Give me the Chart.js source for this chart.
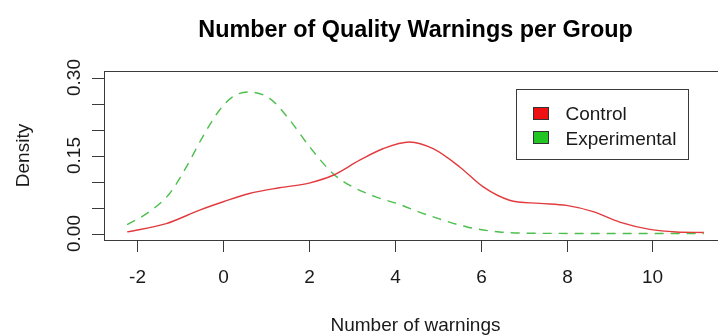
<!DOCTYPE html>
<html>
<head>
<meta charset="utf-8">
<script src="https://cdn.jsdelivr.net/npm/chart.js@4/dist/chart.umd.min.js"></script>
<style>
  html, body { margin: 0; padding: 0; background: #ffffff; overflow: hidden; }
  #wrap { width: 718px; height: 335px; overflow: hidden; }
</style>
</head>
<body>
<div id="wrap">
  <canvas id="densityChart" width="740" height="335"></canvas>
</div>
<script>
// Kernel density estimates, number of warnings per group
var controlX = [-2.24, -1.33, -0.55, 0, 0.61, 1.31, 2.0, 2.56, 3.18, 3.72, 4.34, 4.89, 5.51, 6.05, 6.67, 7.37, 8.0, 8.62, 9.24, 9.94, 10.56, 11.2];
var controlY = [0.003, 0.019, 0.045, 0.061, 0.077, 0.088, 0.097, 0.112, 0.141, 0.163, 0.176, 0.163, 0.128, 0.090, 0.064, 0.058, 0.054, 0.042, 0.022, 0.008, 0.003, 0.002];

var experimentalX = [-2.24, -1.72, -1.25, -0.86, -0.48, -0.09, 0.22, 0.59, 1.08, 1.55, 2.01, 2.56, 2.94, 3.57, 4.11, 4.54, 4.89, 5.66, 6.44, 7.2, 8.5, 10.0, 11.2];
var experimentalY = [0.017, 0.042, 0.077, 0.128, 0.186, 0.237, 0.263, 0.272, 0.260, 0.218, 0.167, 0.115, 0.093, 0.070, 0.056, 0.042, 0.032, 0.013, 0.003, 0.0005, 0.0001, 0, 0];

var xTicks = [-2, 0, 2, 4, 6, 8, 10];
var yTicks = [0, 0.05, 0.10, 0.15, 0.20, 0.25, 0.30];
var yLabels = [0, 0.15, 0.30];

var seriesNames = ['Control', 'Experimental'];
var seriesColors = ['#e23b3e', '#4cbf4c'];
var legendFills = ['#ee1111', '#22c522'];

var FONT = '"Liberation Sans", Arial, Helvetica, sans-serif';

function toPoints(xs, ys) {
  var pts = [];
  for (var i = 0; i < xs.length; i++) {
    pts.push({ x: xs[i], y: ys[i] });
  }
  return pts;
}

// Axes, box, titles and legend drawn R-style on top of the plot
var basePlot = {
  id: 'basePlot',
  afterDraw: function(chart) {
    var ctx = chart.ctx;
    var area = chart.chartArea;
    var xs = chart.scales.x;
    var ys = chart.scales.y;
    ctx.save();

    ctx.strokeStyle = '#3a3a3a';
    ctx.lineWidth = 1;
    ctx.strokeRect(area.left + 0.5, area.top + 0.5, area.right - area.left, area.bottom - area.top);

    ctx.fillStyle = '#1a1a1a';
    ctx.font = '19px ' + FONT;

    // x axis ticks and labels
    ctx.textAlign = 'center';
    ctx.textBaseline = 'alphabetic';
    for (var i = 0; i < xTicks.length; i++) {
      var px = Math.round(xs.getPixelForValue(xTicks[i])) + 0.5;
      ctx.beginPath();
      ctx.moveTo(px, area.bottom);
      ctx.lineTo(px, area.bottom + 12);
      ctx.stroke();
      ctx.fillText(String(xTicks[i]), px, 283);
    }

    // y axis ticks
    for (var j = 0; j < yTicks.length; j++) {
      var py = Math.round(ys.getPixelForValue(yTicks[j])) + 0.5;
      ctx.beginPath();
      ctx.moveTo(area.left - 12, py);
      ctx.lineTo(area.left, py);
      ctx.stroke();
    }

    // y axis labels, rotated
    for (var k = 0; k < yLabels.length; k++) {
      var ly = ys.getPixelForValue(yLabels[k]);
      ctx.save();
      ctx.translate(80, ly);
      ctx.rotate(-Math.PI / 2);
      ctx.fillText(yLabels[k].toFixed(2), 0, 0);
      ctx.restore();
    }

    var midX = (area.left + area.right) / 2;
    var midY = (area.top + area.bottom) / 2;

    ctx.fillText('Number of warnings', midX, 331);

    ctx.save();
    ctx.translate(29, midY);
    ctx.rotate(-Math.PI / 2);
    ctx.fillText('Density', 0, 0);
    ctx.restore();

    ctx.font = 'bold 23.4px ' + FONT;
    ctx.fillStyle = '#000000';
    ctx.fillText('Number of Quality Warnings per Group', midX, 36.5);

    // legend
    ctx.strokeStyle = '#3a3a3a';
    ctx.strokeRect(516.5, 89.5, 172, 70);
    ctx.font = '19px ' + FONT;
    ctx.textAlign = 'left';
    var rows = [120, 144.5];
    var boxes = [107.5, 131.5];
    for (var s = 0; s < seriesNames.length; s++) {
      ctx.fillStyle = legendFills[s];
      ctx.fillRect(533.5, boxes[s], 15, 12);
      ctx.strokeStyle = '#333333';
      ctx.strokeRect(533.5, boxes[s], 15, 12);
      ctx.fillStyle = '#1a1a1a';
      ctx.fillText(seriesNames[s], 565.5, rows[s]);
    }

    ctx.restore();
  }
};

var chart = new Chart(document.getElementById('densityChart'), {
  type: 'line',
  data: {
    datasets: [
      {
        label: seriesNames[0],
        data: toPoints(controlX, controlY),
        borderColor: seriesColors[0],
        borderWidth: 1.4,
        pointRadius: 0,
        fill: false,
        cubicInterpolationMode: 'monotone'
      },
      {
        label: seriesNames[1],
        data: toPoints(experimentalX, experimentalY),
        borderColor: seriesColors[1],
        borderWidth: 1.4,
        borderDash: [9, 7],
        pointRadius: 0,
        fill: false,
        cubicInterpolationMode: 'monotone'
      }
    ]
  },
  options: {
    responsive: false,
    animation: false,
    events: [],
    layout: {
      padding: { left: 104, top: 71, right: 13, bottom: 95 }
    },
    scales: {
      x: { type: 'linear', min: -2.78, max: 11.74, display: false },
      y: { type: 'linear', min: -0.0125, max: 0.3125, display: false }
    },
    plugins: {
      legend: { display: false },
      title: { display: false },
      tooltip: { enabled: false }
    }
  },
  plugins: [basePlot]
});
</script>
</body>
</html>
